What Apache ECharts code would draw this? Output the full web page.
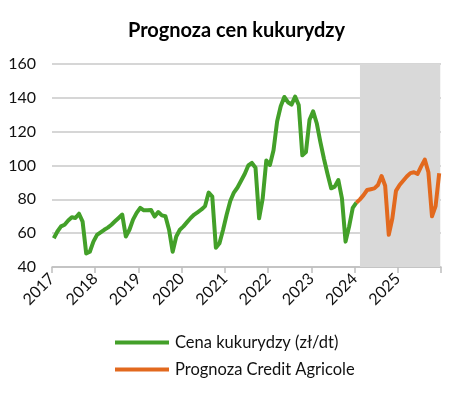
<!DOCTYPE html>
<html>
<head>
<meta charset="utf-8">
<script src="https://cdn.jsdelivr.net/npm/echarts@6/dist/echarts.min.js"></script>
<style>html,body{margin:0;padding:0;background:#fff;}#c{width:473px;height:393px;}</style>
</head>
<body>
<div id="c"></div>
<script>
// Years on the axis (ticks every 12 months from Jan 2017)
var years = ['2017','2018','2019','2020','2021','2022','2023','2024','2025'];
var firstYear = 2017;
// Monthly corn price (zł/dt), Jan 2017 .. Jan 2024
var cena = [
  57,61,64,65,67.5,69.4,69,71.5,66.8,48,49,55,
  59,60.5,62,63.3,65,67,69,71,58,62,68,72,
  75,73.5,73.5,73.7,69.8,72.5,70.5,70,62,49,58,62,
  64,66.5,69,71,72.5,74,76,84,81.6,51.4,54,62,
  71,79,84,87,91,95,100,101.5,98.7,68.8,80.6,103,
  100.3,109,126,135,140.5,137.4,136,140.7,135.8,106,108,127,
  132,125,114,104,95,86.5,87.5,91.4,80.6,55,64,75,
  78
];
var cenaStart = 0;
// Forecast Credit Agricole, Jan 2024 .. Dec 2025
var prognoza = [
  78,80,82.5,85.5,86,86.5,88.5,93.8,88,59,68.8,85,
  88.5,91,93.5,95.5,96,95,99.5,103.5,96,70,76,95.4
];
var prognozaStart = 84;
var shadeFrom = 85.5, shadeTo = 107.8;

function toPts(arr, start){ return arr.map(function(v,i){ return [start + i + 0.5, v]; }); }

var chart = echarts.init(document.getElementById('c'), null, {renderer:'canvas'});
var FF = 'Lato, "Open Sans", sans-serif';
var lab = {color:'#111', fontSize:16, fontFamily:FF};
chart.setOption({
  animation:false,
  title:{text:'Prognoza cen kukurydzy', left:'center', top:16,
    textStyle:{fontSize:20, fontWeight:'bold', color:'#000', fontFamily:FF}},
  grid:{left:52, right:32, top:64, bottom:126},
  legend:{orient:'vertical', left:110, top:329, itemWidth:54, itemHeight:4, itemGap:10, icon:'rect',
    textStyle:{fontSize:16.5, color:'#111', fontFamily:FF, padding:[0,0,0,1]},
    data:['Cena kukurydzy (zł/dt)','Prognoza Credit Agricole']},
  xAxis:{type:'value', min:0, max:108, interval:12,
    axisLine:{show:true, lineStyle:{color:'#bfbfbf', width:1.5}},
    axisTick:{show:true, length:6, lineStyle:{color:'#bfbfbf', width:1.5}},
    splitLine:{show:false},
    axisLabel:Object.assign({rotate:45, margin:9, formatter:function(v){ var i=Math.round(v/12); return i<years.length? years[i] : ''; }}, lab)},
  yAxis:{type:'value', min:40, max:160, interval:20,
    axisLine:{show:false}, axisTick:{show:false},
    splitLine:{lineStyle:{color:'#c8c8c8', width:1.5}},
    axisLabel:Object.assign({margin:16}, lab)},
  series:[
    {name:'Cena kukurydzy (zł/dt)', type:'line', data:toPts(cena, cenaStart), showSymbol:false, symbol:'none',
      lineStyle:{color:'#43a029', width:4, join:'round'}, itemStyle:{color:'#43a029'}, z:3,
      markArea:{silent:true, itemStyle:{color:'#d9d9d9'}, data:[[{xAxis:shadeFrom, yAxis:40},{xAxis:shadeTo, yAxis:160}]]}},
    {name:'Prognoza Credit Agricole', type:'line', data:toPts(prognoza, prognozaStart), showSymbol:false, symbol:'none',
      lineStyle:{color:'#e2691e', width:4, join:'round'}, itemStyle:{color:'#e2691e'}, z:4}
  ]
});
</script>
</body>
</html>
